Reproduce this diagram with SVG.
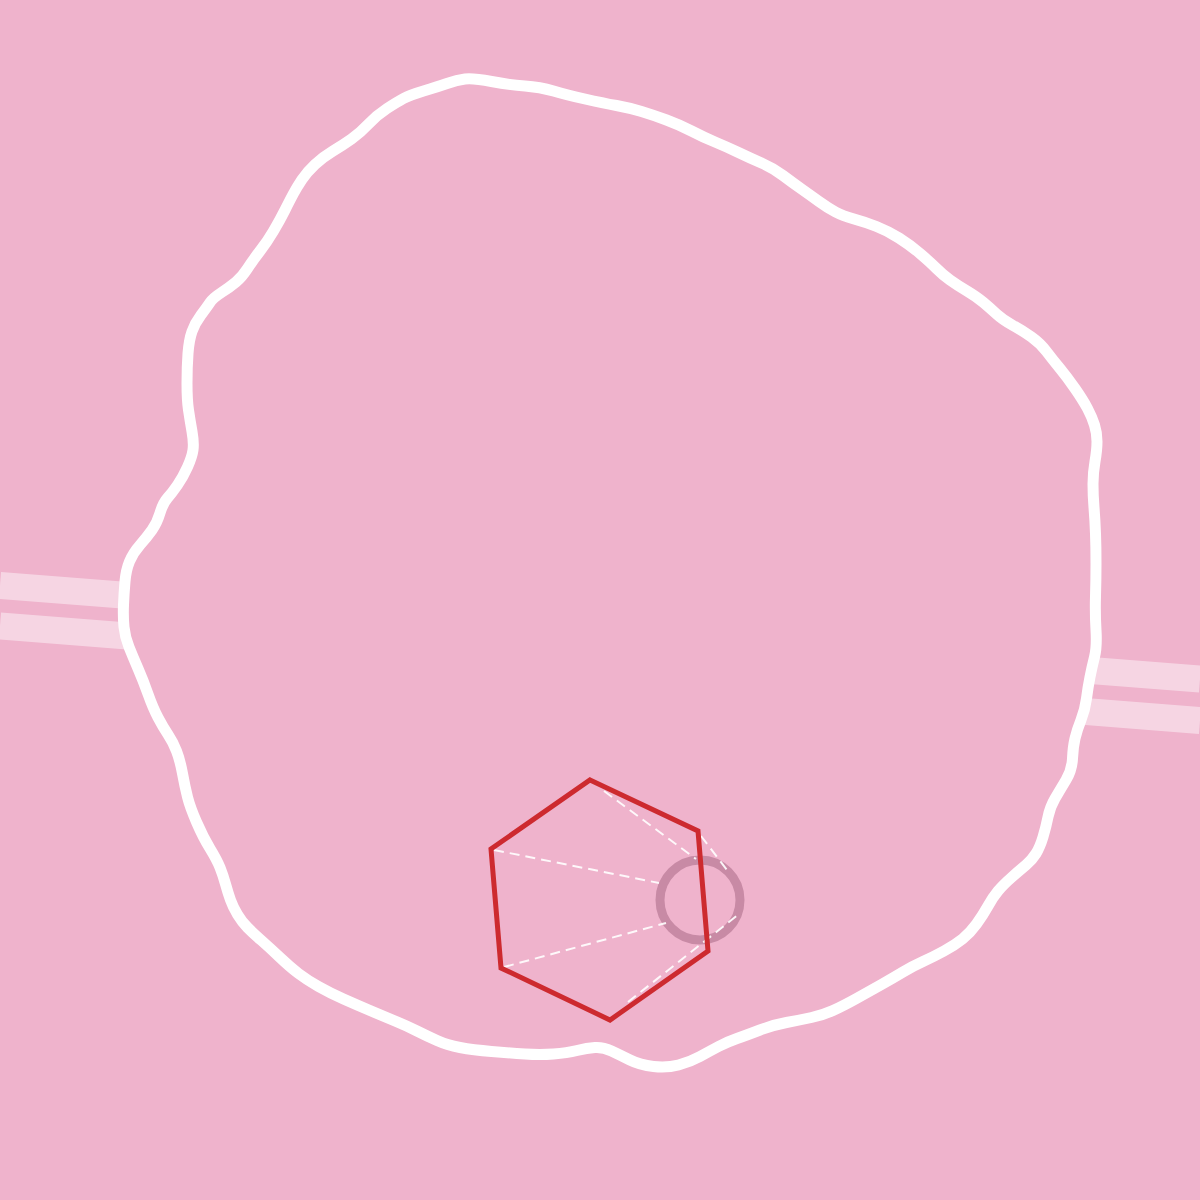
<svg xmlns="http://www.w3.org/2000/svg" width="1200" height="1200" viewBox="0 0 1200 1200">
  <style>
    .stripe { stroke: #ffffff; stroke-opacity: 0.45; stroke-width: 27; fill: none; }
    .blob { fill: #EFB3CC; stroke: #ffffff; stroke-width: 11; stroke-linejoin: round; }
    .dash { stroke: #ffffff; stroke-width: 2; stroke-dasharray: 10 6; fill: none; stroke-opacity: 0.9; }
  </style>
  <rect width="1200" height="1200" fill="#EFB3CC"/>
  <g id="stripes">
    <line class="stripe" x1="0" y1="585.5" x2="1200" y2="679"/>
    <line class="stripe" x1="0" y1="626" x2="1200" y2="720.5"/>
  </g>
  <g id="blob">
    <path class="blob" d="M447,83.5 Q457,80 465,79 Q473,78 491.5,81.5 Q510,85 525,86 Q540,87 553.5,91 Q567,95 585,99 Q603,103 616.5,105.5 Q630,108 641.5,111.5 Q653,115 666.5,120 Q680,125 691.5,131 Q703,137 715,142 Q727,147 738.5,152.5 Q750,158 761.5,163 Q773,168 783,175.5 Q793,183 801.5,189 Q810,195 819,201.5 Q828,208 835.5,212 Q843,216 854,219 Q865,222 876.5,226.5 Q888,231 899,238 Q910,245 920,253.5 Q930,262 936.5,268.5 Q943,275 950,280 Q957,285 967,291 Q977,297 983.5,302.5 Q990,308 996.5,314 Q1003,320 1013,325.5 Q1023,331 1031.5,337 Q1040,343 1046.5,351.5 Q1053,360 1060,368.5 Q1067,377 1075,388.5 Q1083,400 1087.5,408.5 Q1092,417 1094.5,425 Q1097,433 1097,441.5 Q1097,450 1095,461.5 Q1093,473 1093,484 Q1093,495 1094,507.5 Q1095,520 1095.5,533.5 Q1096,547 1096,563.5 Q1096,580 1095.5,596.5 Q1095,613 1096,630 Q1097,647 1094.5,657 Q1092,667 1090,677 Q1088,687 1086.5,698.5 Q1085,710 1081,720 Q1077,730 1075,738.5 Q1073,747 1072.5,758.5 Q1072,770 1066,780 Q1060,790 1055,798.5 Q1050,807 1048,817 Q1046,827 1043,837 Q1040,847 1036,853.5 Q1032,860 1026,865 Q1020,870 1011.5,877.5 Q1003,885 998,891 Q993,897 988,906 Q983,915 976.5,924 Q970,933 962.5,939 Q955,945 944,951 Q933,957 923,961.5 Q913,966 903,972 Q893,978 881.5,984.5 Q870,991 856.5,998.5 Q843,1006 833,1010.5 Q823,1015 811.5,1017.5 Q800,1020 786.5,1022.5 Q773,1025 760,1030 Q747,1035 737,1038.5 Q727,1042 718.5,1046.5 Q710,1051 700,1056.5 Q690,1062 678.5,1065 Q667,1068 653.5,1066.5 Q640,1065 630,1060 Q620,1055 611.5,1051 Q603,1047 595,1047.5 Q587,1048 577,1050.5 Q567,1053 553.5,1054 Q540,1055 525,1054 Q510,1053 491.5,1051.5 Q473,1050 460,1047.5 Q447,1045 437,1040.5 Q427,1036 417,1031 Q407,1026 395,1021 Q383,1016 370,1010.5 Q357,1005 343.5,999 Q330,993 318.5,986.5 Q307,980 298.5,973.5 Q290,967 280,957.5 Q270,948 261.5,940.5 Q253,933 247.5,927.5 Q242,922 237.5,914.5 Q233,907 230.5,900 Q228,893 225.5,884 Q223,875 220,867.5 Q217,860 210,848.5 Q203,837 196.5,822 Q190,807 187.5,797 Q185,787 182.5,773.5 Q180,760 176.5,751 Q173,742 168,734.5 Q163,727 158,717.5 Q153,708 148,694 Q143,680 138,668.5 Q133,657 129,647 Q125,637 124,627 Q123,617 123.5,605 Q124,593 125,581.5 Q126,570 129.5,561.5 Q133,553 140,545 Q147,537 152,530 Q157,523 160,513 Q163,503 167.5,498 Q172,493 177.5,485 Q183,477 187.5,467 Q192,457 193,450 Q194,443 192,431.5 Q190,420 188.5,410 Q187,400 187,383.5 Q187,367 188,353.5 Q189,340 192,331.5 Q195,323 201,315 Q207,307 210,302.5 Q213,298 221.5,292.5 Q230,287 236,282 Q242,277 247.5,268.5 Q253,260 260,251 Q267,242 273.5,231 Q280,220 285,210 Q290,200 293.5,193.5 Q297,187 302,179.5 Q307,172 315,164.5 Q323,157 333,151 Q343,145 351.5,139 Q360,133 368.5,124 Q377,115 387,108.5 Q397,102 403.5,98.5 Q410,95 423.5,91 Q437,87 447,83.5 Z"/>
  </g>
  <g id="ring">
    <circle cx="700" cy="900" r="40" fill="none" stroke="#C88AA5" stroke-width="9"/>
  </g>
  <g id="connectors">
    <line class="dash" x1="604" y1="791" x2="696" y2="859"/>
    <line class="dash" x1="701" y1="836" x2="730" y2="874"/>
    <line class="dash" x1="494" y1="850" x2="659" y2="883"/>
    <line class="dash" x1="504" y1="967" x2="666" y2="923"/>
    <line class="dash" x1="628" y1="1002" x2="739" y2="914"/>
  </g>
  <g id="hexagon">
    <polygon points="590,780 698,831 708,951 610,1020 501,968 491,849" fill="none" stroke="#CD2A2F" stroke-width="5" stroke-linejoin="miter"/>
  </g>
</svg>
